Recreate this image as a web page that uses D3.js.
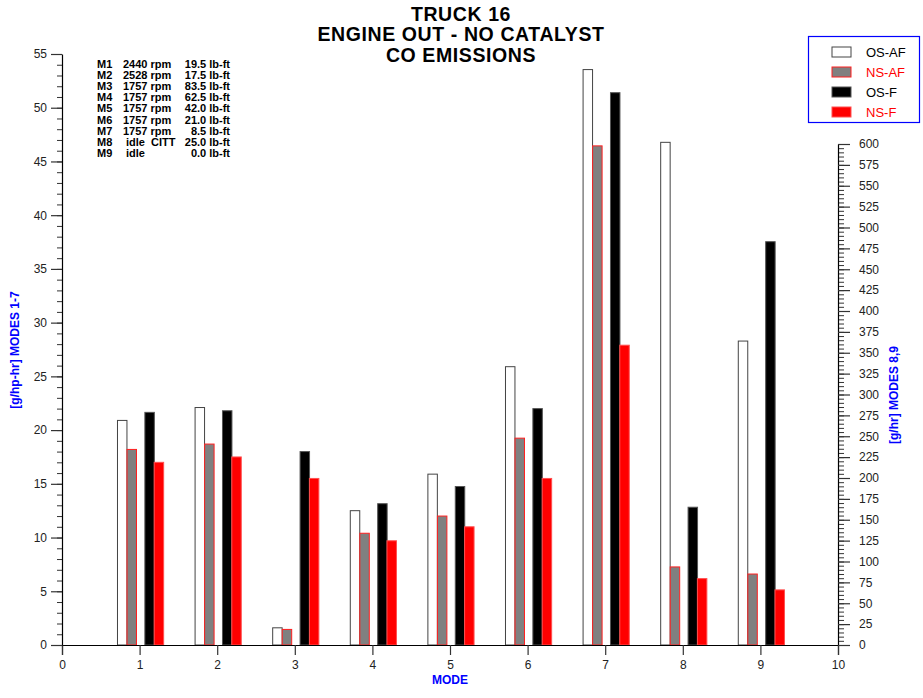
<!DOCTYPE html>
<html>
<head>
<meta charset="utf-8">
<script src="https://cdn.jsdelivr.net/npm/d3@7"></script>
<style>
  body { margin: 0; background: #fff; }
  svg { display: block; font-family: "Liberation Sans", Arial, sans-serif; }
</style>
</head>
<body>
<svg id="chart" width="923" height="698"></svg>
<script>
// ---- Data ----
const titleLines = ["TRUCK 16", "ENGINE OUT - NO CATALYST", "CO EMISSIONS"];
const modes = [1, 2, 3, 4, 5, 6, 7, 8, 9];
const rightAxisModes = [8, 9]; // plotted against the g/hr axis
const seriesNames = ["OS-AF", "NS-AF", "OS-F", "NS-F"];
const osAF = [20.9, 22.1, 1.6, 12.5, 15.9, 25.9, 53.55, 602, 364];
const nsAF = [18.2, 18.7, 1.45, 10.4, 12.0, 19.25, 46.45, 93.5, 85];
const osF  = [21.65, 21.8, 18.0, 13.15, 14.75, 22.0, 51.4, 165, 483];
const nsF  = [17.0, 17.5, 15.5, 9.7, 11.0, 15.5, 27.9, 79.5, 66];
const xTicks = [0, 1, 2, 3, 4, 5, 6, 7, 8, 9, 10];
const leftTicks = [0, 5, 10, 15, 20, 25, 30, 35, 40, 45, 50, 55];
const rightTicks = d3.range(0, 601, 25);
const modeInfo = [
  ["M1", "2440 rpm", "19.5 lb-ft"],
  ["M2", "2528 rpm", "17.5 lb-ft"],
  ["M3", "1757 rpm", "83.5 lb-ft"],
  ["M4", "1757 rpm", "62.5 lb-ft"],
  ["M5", "1757 rpm", "42.0 lb-ft"],
  ["M6", "1757 rpm", "21.0 lb-ft"],
  ["M7", "1757 rpm", "8.5 lb-ft"],
  ["M8", "idle  CITT", "25.0 lb-ft"],
  ["M9", "idle", "0.0 lb-ft"]
];

// ---- Styles ----
const styles = {
  "OS-AF": { fill: "#ffffff", stroke: "#444444", text: "#000" },
  "NS-AF": { fill: "#808080", stroke: "#ff2020", text: "#ff0000" },
  "OS-F":  { fill: "#000000", stroke: "#555555", text: "#000" },
  "NS-F":  { fill: "#ff0000", stroke: "#ff5050", text: "#ff0000" }
};
const offsets = { "OS-AF": -0.285, "NS-AF": -0.162, "OS-F": 0.068, "NS-F": 0.188 };
const barW = 0.122;

const svg = d3.select("#chart");
const x = d3.scaleLinear().domain([0, 10]).range([62, 838]);
const yL = d3.scaleLinear().domain([0, 55]).range([645, 54]);
const yR = d3.scaleLinear().domain([0, 600]).range([645, 144]);

// Title
svg.append("g").selectAll("text").data(titleLines).join("text")
  .attr("x", 461).attr("y", (d, i) => [20.5, 41, 61.5][i])
  .attr("text-anchor", "middle").attr("font-size", 19.5).attr("font-weight", "bold")
  .attr("letter-spacing", 0.6)
  .text(d => d);

// Bars
const seriesVals = { "OS-AF": osAF, "NS-AF": nsAF, "OS-F": osF, "NS-F": nsF };
const barData = [];
modes.forEach((m, i) => {
  seriesNames.forEach(s => {
    barData.push({ mode: m, series: s, value: seriesVals[s][i],
      scale: rightAxisModes.includes(m) ? yR : yL });
  });
});
svg.append("g").selectAll("rect").data(barData).join("rect")
  .attr("x", d => x(d.mode + offsets[d.series]))
  .attr("width", d => x(barW) - x(0))
  .attr("y", d => d.scale(d.value))
  .attr("height", d => d.scale(0) - d.scale(d.value))
  .attr("fill", d => styles[d.series].fill)
  .attr("stroke", d => styles[d.series].stroke)
  .attr("stroke-width", 1);

// X axis
const xAxis = d3.axisBottom(x).tickValues(xTicks).tickSize(10).tickPadding(5).tickFormat(d3.format("d"));
const gx = svg.append("g").attr("transform", "translate(0,645)").call(xAxis);
gx.select(".domain").attr("stroke", "#000").attr("stroke-width", 1.2);
gx.selectAll(".tick line").attr("stroke", "#333").attr("stroke-width", 1.2);
gx.selectAll("text").attr("font-size", 12).attr("fill", "#222").attr("font-family", "Liberation Sans, Arial, sans-serif");

// Left axis (major + minor)
const gLmin = svg.append("g").attr("transform", "translate(62,0)")
  .call(d3.axisLeft(yL).tickValues(d3.range(0, 56, 1)).tickSize(5).tickFormat(""));
gLmin.select(".domain").remove();
gLmin.selectAll(".tick line").attr("stroke", "#333");
const gL = svg.append("g").attr("transform", "translate(62,0)")
  .call(d3.axisLeft(yL).tickValues(leftTicks).tickSize(11).tickPadding(4).tickSizeOuter(0));
gL.select(".domain").attr("stroke", "#000").attr("stroke-width", 1.2);
gL.selectAll(".tick line").attr("stroke", "#333").attr("stroke-width", 1.2);
gL.selectAll("text").attr("font-size", 12).attr("fill", "#222").attr("font-family", "Liberation Sans, Arial, sans-serif");

// Right axis (major + minor)
const gRmin = svg.append("g").attr("transform", "translate(838,0)")
  .call(d3.axisRight(yR).tickValues(d3.range(0, 601, 5)).tickSize(6).tickFormat(""));
gRmin.select(".domain").remove();
gRmin.selectAll(".tick line").attr("stroke", "#333");
const gR = svg.append("g").attr("transform", "translate(838,0)")
  .call(d3.axisRight(yR).tickValues(rightTicks).tickSize(12).tickPadding(9).tickSizeOuter(0));
gR.select(".domain").attr("stroke", "#000").attr("stroke-width", 1.2);
gR.selectAll(".tick line").attr("stroke", "#333").attr("stroke-width", 1.2);
gR.selectAll("text").attr("font-size", 12).attr("fill", "#222").attr("font-family", "Liberation Sans, Arial, sans-serif");

// Axis titles
svg.append("text").attr("x", 450).attr("y", 684).attr("text-anchor", "middle")
  .attr("font-size", 12).attr("font-weight", "bold").attr("fill", "#0000ff").text("MODE");
svg.append("text").attr("transform", "translate(19,350) rotate(-90)").attr("text-anchor", "middle")
  .attr("font-size", 12).attr("font-weight", "bold").attr("fill", "#0000ff").text("[g/hp-hr] MODES 1-7");
svg.append("text").attr("transform", "translate(898,395) rotate(-90)").attr("text-anchor", "middle")
  .attr("font-size", 12).attr("font-weight", "bold").attr("fill", "#0000ff").text("[g/hr] MODES 8,9");

// Mode annotation
const ann = svg.append("g").attr("font-size", 11).attr("font-weight", "bold").attr("fill", "#000");
modeInfo.forEach((r, i) => {
  const yy = 68 + i * 11.1;
  ann.append("text").attr("x", 97).attr("y", yy).text(r[0]);
  ann.append("text").attr("x", r[1].startsWith("idle") ? 126 : 123).attr("y", yy)
    .attr("xml:space", "preserve").style("white-space", "pre").text(r[1]);
  ann.append("text").attr("x", 230).attr("y", yy).attr("text-anchor", "end").text(r[2]);
});

// Legend
const lg = svg.append("g");
lg.append("rect").attr("x", 808.5).attr("y", 36.5).attr("width", 111).attr("height", 86)
  .attr("fill", "#fff").attr("stroke", "#0000ff").attr("stroke-width", 1.2);
seriesNames.forEach((s, i) => {
  const cy = 52 + i * 20;
  lg.append("rect").attr("x", 832).attr("y", cy - 5).attr("width", 19).attr("height", 10)
    .attr("fill", styles[s].fill).attr("stroke", styles[s].stroke);
  lg.append("text").attr("x", 866).attr("y", cy + 5).attr("font-size", 13)
    .attr("fill", styles[s].text).text(s);
});
</script>
</body>
</html>
